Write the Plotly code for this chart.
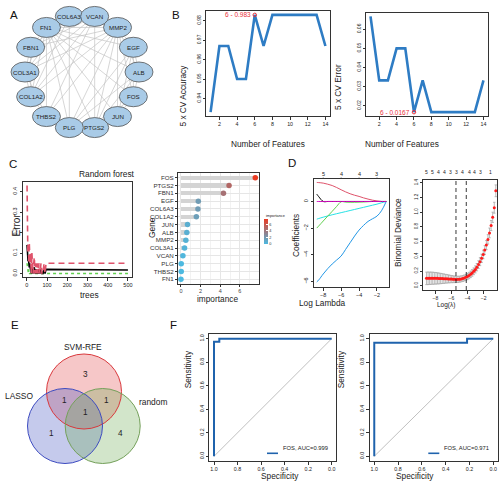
import math
import plotly.graph_objects as go

W, H = 500, 488
FONT = "Arial, 'Liberation Sans', sans-serif"

# ------------------------------------------------------------------ data
net_genes = ["COL6A3", "VCAN", "MMP2", "EGF", "ALB", "FOS", "JUN", "PTGS2",
             "PLG", "THBS2", "COL1A2", "COL3A1", "FBN1", "FN1"]
net_edges = [
    ("FN1", "COL1A2"), ("FN1", "COL3A1"), ("FN1", "FBN1"), ("FN1", "VCAN"), ("FN1", "MMP2"),
    ("FN1", "THBS2"), ("FN1", "PLG"), ("FN1", "EGF"), ("FN1", "ALB"), ("FN1", "FOS"),
    ("FN1", "JUN"), ("FN1", "PTGS2"), ("COL1A2", "COL3A1"), ("COL1A2", "COL6A3"),
    ("COL1A2", "MMP2"), ("COL1A2", "THBS2"), ("COL1A2", "FBN1"), ("COL1A2", "VCAN"),
    ("COL3A1", "COL6A3"), ("COL3A1", "MMP2"), ("COL3A1", "THBS2"), ("COL3A1", "FBN1"),
    ("COL3A1", "VCAN"), ("MMP2", "THBS2"), ("MMP2", "PLG"), ("MMP2", "EGF"), ("MMP2", "ALB"),
    ("MMP2", "FOS"), ("MMP2", "JUN"), ("MMP2", "PTGS2"), ("EGF", "ALB"), ("EGF", "FOS"),
    ("EGF", "JUN"), ("EGF", "PTGS2"), ("EGF", "PLG"), ("FOS", "JUN"), ("FOS", "PTGS2"),
    ("JUN", "PTGS2"), ("ALB", "PLG"), ("ALB", "PTGS2"), ("COL6A3", "FBN1"), ("COL6A3", "VCAN"),
    ("THBS2", "VCAN"), ("FBN1", "VCAN"), ("PLG", "THBS2"), ("ALB", "FOS"), ("COL6A3", "MMP2"),
    ("FBN1", "MMP2"), ("COL6A3", "PLG"), ("VCAN", "PTGS2"),
]

n_features = [1, 2, 3, 4, 5, 6, 7, 8, 9, 10, 11, 12, 13, 14]
cv_accuracy = [0.933, 0.967, 0.967, 0.950, 0.950, 0.983, 0.967,
               0.983, 0.983, 0.983, 0.983, 0.983, 0.983, 0.967]
cv_error = [0.0667, 0.0333, 0.0333, 0.0500, 0.0500, 0.0167, 0.0333,
            0.0167, 0.0167, 0.0167, 0.0167, 0.0167, 0.0167, 0.0333]
best_n = 6

rf_trees = [1, 2, 3, 4, 5, 6, 7, 8, 10, 12, 14, 16, 18, 20, 22, 25, 28, 31, 34, 37, 40,
            44, 48, 52, 56, 60, 65, 70, 75, 80, 85, 90, 95, 100, 105, 500]
rf_oob = [0.14, 0.10, 0.12, 0.08, 0.10, 0.06, 0.08, 0.05, 0.07, 0.03, 0.05, 0.03, 0.02, 0.03,
          0.00, 0.03, 0.02, 0.00, 0.02, 0.03, 0.00, 0.02, 0.00, 0.02, 0.00, 0.02, 0.00, 0.02,
          0.00, 0.00, 0.02, 0.00, 0.02, 0.02, 0.017, 0.017]
rf_err_a = [0.43, 0.30, 0.20, 0.15, 0.10, 0.12, 0.15, 0.10, 0.05, 0.15, 0.10, 0.05, 0.10,
            0.05, 0.00, 0.10, 0.05, 0.00, 0.05, 0.08, 0.00, 0.05, 0.00, 0.05, 0.00, 0.05,
            0.00, 0.05, 0.00, 0.00, 0.05, 0.00, 0.05, 0.05, 0.05, 0.05]
rf_err_b = [0.05, 0.04, 0.05, 0.03, 0.02, 0.00, 0.02, 0.00, 0.02, 0.00, 0.00, 0.00, 0.00,
            0.00, 0.00, 0.00, 0.00, 0.00, 0.00, 0.00, 0.00, 0.00, 0.00, 0.00, 0.00, 0.00,
            0.00, 0.00, 0.00, 0.00, 0.00, 0.00, 0.00, 0.00, 0.00, 0.00]

imp_genes = ["FOS", "PTGS2", "FBN1", "EGF", "COL6A3", "COL1A2", "JUN", "ALB",
             "MMP2", "COL3A1", "VCAN", "PLG", "THBS2", "FN1"]
imp_values = [7.57, 4.90, 4.33, 1.77, 1.73, 1.57, 0.67, 0.60, 0.50, 0.37, 0.20, 0.03, 0.03, 0.00]

path_loglambda = [-8.72, -8.5, -8.0, -7.5, -7.0, -6.5, -6.0, -5.5, -5.0, -4.5,
                  -4.0, -3.5, -3.0, -2.5, -2.0, -1.5, -0.97]
coef_black = [0.55, 0.36, 0.0, 0, 0, 0, 0, 0, 0, 0, 0, 0, 0, 0, 0, 0, 0]
coef_red = [1.43, 1.42, 1.38, 1.30, 1.20, 1.05, 0.88, 0.72, 0.58, 0.47,
            0.38, 0.27, 0.18, 0.10, 0.04, 0.0, 0.0]
coef_green = [-2.0, -1.84, -1.47, -1.10, -0.74, -0.37, -0.02, -0.05, -0.06, -0.06,
              -0.05, -0.04, -0.02, 0.0, 0.0, 0.0, 0.0]
coef_cyan = [-1.33, -1.28, -1.18, -1.09, -1.0, -0.92, -0.84, -0.76, -0.68, -0.60,
             -0.52, -0.44, -0.36, -0.28, -0.20, -0.10, 0.0]
coef_blue = [-6.05, -5.90, -5.45, -5.05, -4.70, -4.40, -4.10, -3.60, -3.10, -2.60,
             -2.15, -1.80, -1.50, -1.30, -1.10, -0.70, 0.0]
coef_magenta = [0] * 17
path_df_at = [-8, -6, -4, -2]
path_df_lab = ["5", "4", "4", "3"]

cv_loglambda = [-9.10, -8.90, -8.71, -8.51, -8.32, -8.12, -7.92, -7.73, -7.53, -7.34,
                -7.14, -6.94, -6.75, -6.55, -6.36, -6.16, -5.96, -5.77, -5.57, -5.38,
                -5.18, -4.98, -4.79, -4.59, -4.40, -4.20, -4.00, -3.81, -3.61, -3.42,
                -3.22, -3.02, -2.83, -2.63, -2.44, -2.24, -2.04, -1.85, -1.65, -1.46,
                -1.26, -1.06, -0.87, -0.67, -0.48]
cv_dev = [0.100, 0.101, 0.101, 0.102, 0.102, 0.101, 0.101, 0.100, 0.099, 0.098,
          0.097, 0.096, 0.095, 0.094, 0.093, 0.091, 0.090, 0.088, 0.087, 0.086,
          0.087, 0.089, 0.093, 0.098, 0.105, 0.114, 0.125, 0.139, 0.155, 0.174,
          0.196, 0.222, 0.252, 0.287, 0.327, 0.373, 0.425, 0.485, 0.553, 0.630,
          0.718, 0.818, 0.930, 1.060, 1.290]
cv_se = [0.085, 0.085, 0.084, 0.083, 0.082, 0.080, 0.078, 0.076, 0.073, 0.070,
         0.067, 0.064, 0.060, 0.057, 0.054, 0.051, 0.048, 0.046, 0.044, 0.043,
         0.042, 0.041, 0.040, 0.040, 0.040, 0.041, 0.042, 0.043, 0.044, 0.045,
         0.046, 0.048, 0.050, 0.052, 0.054, 0.056, 0.058, 0.060, 0.062, 0.064,
         0.066, 0.068, 0.070, 0.074, 0.080]
cv_lambda_min = -5.43
cv_lambda_1se = -4.15
cv_nz_at = [-9.12, -8.37, -7.63, -6.88, -6.14, -5.39, -4.56, -3.81, -3.07, -2.41, -1.08]
cv_nz_lab = ["5", "5", "4", "4", "3", "3", "4", "4", "4", "3", "1"]

venn_sets = ["SVM-RFE", "LASSO", "random"]
venn_regions = ["SVM-RFE", "SVM-RFE&LASSO", "SVM-RFE&random", "all", "LASSO", "random"]
venn_counts = [3, 1, 1, 1, 1, 4]

roc1_spec = [1.0, 1.0, 0.955, 0.955, 0.0]
roc1_sens = [0.0, 0.975, 0.975, 1.0, 1.0]
roc2_spec = [1.0, 1.0, 0.22, 0.22, 0.0]
roc2_sens = [0.0, 0.965, 0.965, 1.0, 1.0]
roc_labels = ["FOS, AUC=0.999", "FOS, AUC=0.971"]

# ------------------------------------------------------------------ helpers
def xd(a, b):
    return [a / W, b / W]


def yd(top, bottom):
    return [1 - bottom / H, 1 - top / H]


def px(x):
    return x / W


def py(y):
    return 1 - y / H


def r_axis(domain, rng, anchor, **kw):
    d = dict(domain=domain, range=rng, anchor=anchor, showline=True, mirror=True,
             linecolor="#333", linewidth=1, ticks="outside", ticklen=2.5, tickwidth=0.7,
             tickcolor="#333", tickfont=dict(size=5, color="#222"), showgrid=False,
             zeroline=False, fixedrange=True)
    d.update(kw)
    return d


def hidden_axis(domain, rng, anchor):
    return dict(domain=domain, range=rng, anchor=anchor, visible=False, fixedrange=True)


fig = go.Figure()
shapes, annos = [], []
layout = {}


def text(t, x, y, size, angle=0, color="#222", **kw):
    d = dict(text=t, x=px(x), y=py(y), xref="paper", yref="paper", showarrow=False,
             font=dict(size=size, color=color, family=FONT), textangle=angle)
    d.update(kw)
    annos.append(d)


# ------------------------------------------------------------------ A network
layout["xaxis"] = hidden_axis(xd(0, 170), [0, 170], "y")
layout["yaxis"] = hidden_axis(yd(0, 150), [150, 0], "x")
cx, cy, rad = 82, 72, 57
pos = {}
for i, g in enumerate(net_genes):
    ang = math.radians(90 + 12.857 - i * 360 / len(net_genes))
    pos[g] = (cx + rad * math.cos(ang), cy - rad * math.sin(ang))
ex, ey = [], []
for a, b in net_edges:
    ex += [pos[a][0], pos[b][0], None]
    ey += [pos[a][1], pos[b][1], None]
fig.add_trace(go.Scatter(x=ex, y=ey, mode="lines", line=dict(color="#c4c4c4", width=0.7),
                         xaxis="x", yaxis="y", hoverinfo="skip"))
for g in net_genes:
    x0, y0 = pos[g]
    shapes.append(dict(type="circle", xref="x", yref="y", x0=x0 - 14, x1=x0 + 14,
                       y0=y0 - 10, y1=y0 + 10, fillcolor="#a9cbe7",
                       line=dict(color="#555", width=0.8)))
    annos.append(dict(text=g, x=x0, y=y0, xref="x", yref="y", showarrow=False,
                      font=dict(size=6.2, color="#222", family=FONT)))

# ------------------------------------------------------------------ B
blue = "#2e7cc4"
layout["xaxis2"] = r_axis(xd(206, 330), [0.48, 14.52], "y2", tickvals=[2, 4, 6, 8, 10, 12, 14],
                          tickfont=dict(size=5.3, color="#222"))
layout["yaxis2"] = r_axis(yd(11, 116), [0.931, 0.985], "x2",
                          tickvals=[0.94, 0.95, 0.96, 0.97, 0.98], tickangle=-90)
fig.add_trace(go.Scatter(x=n_features, y=cv_accuracy, mode="lines",
                         line=dict(color=blue, width=2.6), xaxis="x2", yaxis="y2"))
bi = n_features.index(best_n)
fig.add_trace(go.Scatter(x=[best_n], y=[cv_accuracy[bi]], mode="markers",
                         marker=dict(symbol="circle-open", size=3.5, color="#e8303a"),
                         xaxis="x2", yaxis="y2"))
annos.append(dict(text=f"{best_n} - {cv_accuracy[bi]}", x=best_n, y=cv_accuracy[bi],
                  xref="x2", yref="y2", showarrow=False, xanchor="right", xshift=-2,
                  font=dict(size=6.5, color="#e8303a", family=FONT)))
text("5 x CV Accuracy", 182.5, 63, 8.3, -90)
text("Number of Features", 268, 137, 8.3)

layout["xaxis3"] = r_axis(xd(366, 488), [0.48, 14.52], "y3", tickvals=[2, 4, 6, 8, 10, 12, 14],
                          tickfont=dict(size=5.3, color="#222"))
layout["yaxis3"] = r_axis(yd(12.5, 116), [0.0147, 0.0687], "x3",
                          tickvals=[0.02, 0.03, 0.04, 0.05, 0.06], tickangle=-90)
fig.add_trace(go.Scatter(x=n_features, y=cv_error, mode="lines",
                         line=dict(color=blue, width=2.6), xaxis="x3", yaxis="y3"))
fig.add_trace(go.Scatter(x=[best_n], y=[cv_error[bi]], mode="markers",
                         marker=dict(symbol="circle-open", size=3.5, color="#e8303a"),
                         xaxis="x3", yaxis="y3"))
annos.append(dict(text=f"{best_n} - {cv_error[bi]}", x=best_n, y=cv_error[bi],
                  xref="x3", yref="y3", showarrow=False, xanchor="right", xshift=-2,
                  font=dict(size=6.5, color="#e8303a", family=FONT)))
text("5 x CV Error", 345, 62, 8.3, -90)
text("Number of Features", 441, 137, 8.3)

# ------------------------------------------------------------------ C left (random forest)
layout["xaxis4"] = r_axis(xd(23, 132), [-19, 520], "y4", tickvals=[0, 100, 200, 300, 400, 500],
                          tickfont=dict(size=5.5, color="#222"))
layout["yaxis4"] = r_axis(yd(182, 277), [-0.0172, 0.4472], "x4",
                          tickvals=[0, 0.1, 0.2, 0.3, 0.4], ticktext=["0.0", "0.1", "0.2", "0.3", "0.4"],
                          tickangle=-90, tickfont=dict(size=5.5, color="#222"))
fig.add_trace(go.Scatter(x=rf_trees, y=rf_err_b, mode="lines",
                         line=dict(color="#61D04F", width=1.6, dash="dot"), xaxis="x4", yaxis="y4"))
fig.add_trace(go.Scatter(x=rf_trees, y=rf_oob, mode="lines",
                         line=dict(color="black", width=1.6), xaxis="x4", yaxis="y4"))
fig.add_trace(go.Scatter(x=rf_trees, y=rf_err_a, mode="lines",
                         line=dict(color="#DF536B", width=1.6, dash="6px,4px"), xaxis="x4", yaxis="y4"))
text("Random forest", 77, 174.3, 8.4)
text("Error", 8, 225, 10, -90)
text("trees", 78, 295, 8.4)

# ------------------------------------------------------------------ C right (importance)
cat_order = imp_genes[::-1]
layout["xaxis5"] = dict(domain=xd(178, 259), range=[-0.3, 7.95], anchor="y5", showline=True,
                        mirror=True, linecolor="#333", linewidth=1, ticks="outside", ticklen=1.5,
                        tickcolor="#333", tickfont=dict(size=5.5, color="#444"),
                        tickvals=[0, 2, 4, 6], showgrid=True, gridcolor="#e6e6e6", gridwidth=0.6,
                        minor=dict(tickvals=[1, 3, 5, 7], showgrid=True, gridcolor="#f2f2f2", gridwidth=0.4),
                        zeroline=False, fixedrange=True)
layout["yaxis5"] = dict(domain=yd(173, 284), range=[-0.6, 13.6], anchor="x5", showline=True,
                        mirror=True, linecolor="#333", linewidth=1, ticks="outside", ticklen=2,
                        tickcolor="#333", tickfont=dict(size=6.2, color="#333"),
                        type="category", categoryorder="array", categoryarray=cat_order,
                        showgrid=True, gridcolor="#e6e6e6", gridwidth=0.6, zeroline=False,
                        fixedrange=True)
fig.add_trace(go.Bar(x=imp_values, y=imp_genes, orientation="h", width=0.55,
                     marker=dict(color="#d4d4d4", line=dict(width=0)), xaxis="x5", yaxis="y5"))
fig.add_trace(go.Scatter(x=imp_values, y=imp_genes, mode="markers", xaxis="x5", yaxis="y5",
                         marker=dict(size=5.5, color=imp_values, cmin=0, cmax=max(imp_values),
                                     colorscale=[[0, "#4cb9e1"], [1, "#ea3b22"]],
                                     colorbar=dict(x=px(264), xanchor="left", y=py(231.5),
                                                   yanchor="middle", lenmode="pixels", len=25,
                                                   thickness=4, xpad=0, ypad=0,
                                                   outlinewidth=0, tickvals=[0, 2, 4, 6],
                                                   ticks="inside", ticklen=1.5, tickcolor="white",
                                                   tickfont=dict(size=3.8, color="#333")))))
text("importance", 263.5, 216.5, 3.8, xanchor="left")
text("Gene", 145, 228, 8.4, -90)
text("importance", 217.5, 298.5, 8.3)

# ------------------------------------------------------------------ D left (coef path)
layout["xaxis6"] = r_axis(xd(314, 389), [-9.03, -0.66], "y6", tickvals=[-8, -6, -4, -2],
                          tickfont=dict(size=5.5, color="#222"))
layout["yaxis6"] = r_axis(yd(179, 287), [-6.43, 1.69], "x6", tickvals=[-6, -4, -2, 0],
                          tickangle=-90, tickfont=dict(size=5.5, color="#222"))
for ys, col in [(coef_blue, "#2297E6"), (coef_cyan, "#28E2E5"), (coef_green, "#61D04F"),
                (coef_red, "#DF536B"), (coef_black, "black"), (coef_magenta, "#CD0BBC")]:
    fig.add_trace(go.Scatter(x=path_loglambda, y=ys, mode="lines", line=dict(color=col, width=1),
                             line_shape="spline", xaxis="x6", yaxis="y6"))
for xv, lab in zip(path_df_at, path_df_lab):
    annos.append(dict(text=lab, x=xv, y=py(174), xref="x6", yref="paper", showarrow=False,
                      font=dict(size=5.5, color="#222", family=FONT)))
    shapes.append(dict(type="line", xref="x6", yref="paper", x0=xv, x1=xv, y0=py(179), y1=py(177.5),
                       line=dict(color="#333", width=0.7)))
text("Coefficients", 296, 236, 8.3, -90)
text("Log Lambda", 348, 302.5, 8.3)

# ------------------------------------------------------------------ D right (cv deviance)
layout["xaxis7"] = r_axis(xd(423, 497), [-9.53, -0.33], "y7", tickvals=[-8, -6, -4, -2],
                          tickfont=dict(size=5, color="#222"))
layout["yaxis7"] = r_axis(yd(180, 290), [-0.058, 1.437], "x7",
                          tickvals=[0, 0.2, 0.4, 0.6, 0.8, 1.0, 1.2, 1.4],
                          ticktext=["0.0", "0.2", "0.4", "0.6", "0.8", "1.0", "1.2", "1.4"],
                          tickangle=-90, tickfont=dict(size=4.5, color="#222"))
fig.add_trace(go.Scatter(x=cv_loglambda, y=cv_dev, mode="markers", xaxis="x7", yaxis="y7",
                         marker=dict(size=3, color="#ff1a1a", symbol="circle"),
                         error_y=dict(type="data", array=cv_se, color="#a8a8a8", thickness=0.8,
                                      width=1.2)))
for xv in [cv_lambda_min, cv_lambda_1se]:
    shapes.append(dict(type="line", xref="x7", yref="y7", x0=xv, x1=xv, y0=-0.058, y1=1.437,
                       line=dict(color="#222", width=0.9, dash="4px,3px")))
for xv, lab in zip(cv_nz_at, cv_nz_lab):
    annos.append(dict(text=lab, x=xv, y=py(172.5), xref="x7", yref="paper", showarrow=False,
                      font=dict(size=5, color="#222", family=FONT)))
text("Binomial Deviance", 405, 233, 8.3, -90)
text("Log(λ)", 457, 305, 6.5)

# ------------------------------------------------------------------ E venn
layout["xaxis8"] = hidden_axis(xd(0, 170), [0, 170], "y8")
layout["yaxis8"] = hidden_axis(yd(330, 488), [488, 330], "x8")
venn_circles = {"SVM-RFE": (84, 391.5, "#e0464a", "#d9383c"),
                "LASSO": (65, 426, "#3f4fbf", "#3d4bc0"),
                "random": (102.7, 426, "#6aa84f", "#74a05a")}
for s in venn_sets:
    vx, vy, fc, lc = venn_circles[s]
    shapes.append(dict(type="circle", xref="x8", yref="y8", x0=vx - 37.5, x1=vx + 37.5,
                       y0=vy - 37.5, y1=vy + 37.5, fillcolor=fc, opacity=0.3,
                       line=dict(width=0)))
for s in venn_sets:
    vx, vy, fc, lc = venn_circles[s]
    shapes.append(dict(type="circle", xref="x8", yref="y8", x0=vx - 37.5, x1=vx + 37.5,
                       y0=vy - 37.5, y1=vy + 37.5, line=dict(color=lc, width=1)))
venn_label_pos = {"SVM-RFE": (83, 347), "LASSO": (18.5, 395.5), "random": (152.5, 402)}
for s in venn_sets:
    lx, ly = venn_label_pos[s]
    annos.append(dict(text=s, x=lx, y=ly, xref="x8", yref="y8", showarrow=False,
                      font=dict(size=8.4, color="#222", family=FONT)))
venn_count_pos = {"SVM-RFE": (85.5, 374), "SVM-RFE&LASSO": (64, 400), "SVM-RFE&random": (106.5, 400),
                  "all": (85.5, 412.5), "LASSO": (51, 433.5), "random": (120, 433.5)}
for r, c in zip(venn_regions, venn_counts):
    lx, ly = venn_count_pos[r]
    annos.append(dict(text=str(c), x=lx, y=ly, xref="x8", yref="y8", showarrow=False,
                      font=dict(size=8.2, color="#222", family=FONT)))

# ------------------------------------------------------------------ F ROC
roc_cfg = [("9", xd(209.3, 336.4), roc1_spec, roc1_sens, roc_labels[0], 188.3, 280, (267, 278, 280.5)),
           ("10", xd(369.5, 498), roc2_spec, roc2_sens, roc_labels[1], 348.3, 436, (428.3, 439.3, 441.7))]
for k, dom, sp, se, lab, sx, tx, lg in roc_cfg:
    layout["xaxis" + k] = r_axis(dom, [1.04, -0.04], "y" + k, tickvals=[1, 0.8, 0.6, 0.4, 0.2, 0],
                                 ticktext=["1.0", "0.8", "0.6", "0.4", "0.2", "0.0"],
                                 tickfont=dict(size=5.3, color="#222"))
    layout["yaxis" + k] = r_axis(yd(334, 461), [-0.04, 1.04], "x" + k,
                                 tickvals=[0, 0.2, 0.4, 0.6, 0.8, 1.0],
                                 ticktext=["0.0", "0.2", "0.4", "0.6", "0.8", "1.0"],
                                 tickangle=-90, tickfont=dict(size=5.3, color="#222"))
    fig.add_trace(go.Scatter(x=[1, 0], y=[0, 1], mode="lines", line=dict(color="#b0b0b0", width=0.8),
                             xaxis="x" + k, yaxis="y" + k))
    fig.add_trace(go.Scatter(x=sp, y=se, mode="lines", line=dict(color="#1f63ad", width=2),
                             xaxis="x" + k, yaxis="y" + k))
    shapes.append(dict(type="line", xref="paper", yref="paper", x0=px(lg[0]), x1=px(lg[1]),
                       y0=py(453.3), y1=py(453.3), line=dict(color="#1f63ad", width=1.6)))
    text(lab, lg[2], 453.3, 5.8, xanchor="left")
    text("Sensitivity", sx, 390, 8.3, -90)
    text("Specificity", tx, 482.5, 8.3)

# ------------------------------------------------------------------ panel letters
for lab, x, y in [("A", 7.5, 7), ("B", 175.5, 7), ("C", 7, 164), ("D", 292, 163.5),
                  ("E", 9, 325), ("F", 173.5, 325)]:
    text(lab, x, y, 11.5, color="#111")

fig.update_layout(width=W, height=H, margin=dict(l=0, r=0, t=0, b=0, autoexpand=False),
                  showlegend=False, paper_bgcolor="white", plot_bgcolor="white",
                  font=dict(family=FONT), shapes=shapes, annotations=annos, bargap=0, **layout)
fig.write_html("out.html", config={"displayModeBar": False},
               post_script="document.body.style.margin='0px';")
